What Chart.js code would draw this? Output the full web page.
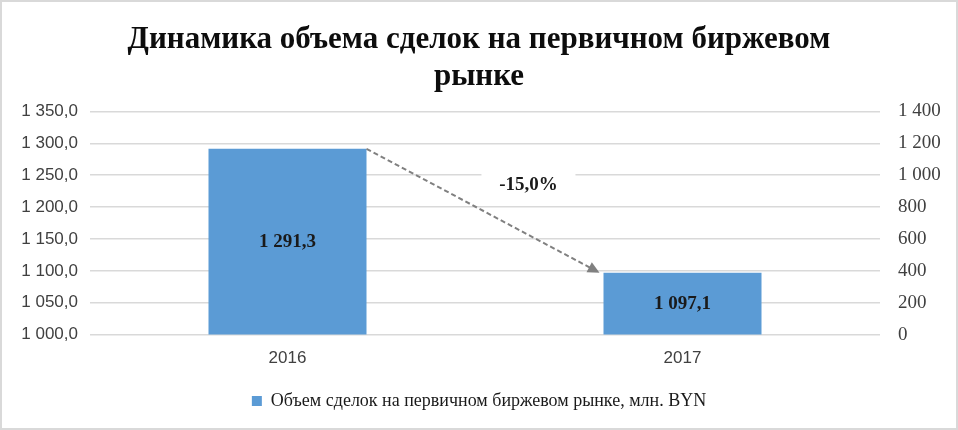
<!DOCTYPE html>
<html>
<head>
<meta charset="utf-8">
<script src="https://cdn.jsdelivr.net/npm/chart.js@4/dist/chart.umd.min.js"></script>
<style>
  html, body { margin: 0; padding: 0; background: #fff; }
  #wrap { width: 954px; height: 426px; border: 2px solid #d9d9d9; position: relative; }
</style>
</head>
<body>
<div id="wrap"><canvas id="volumeChart" width="954" height="426"></canvas></div>
<script>
const categories = ['2016', '2017'];
const volumes = [1291.3, 1097.1];
const seriesName = 'Объем сделок на первичном биржевом рынке, млн. BYN';
const chartTitle = ['Динамика объема сделок на первичном биржевом', 'рынке'];
const changeText = '-15,0%';
const leftMin = 1000, leftMax = 1350, leftStep = 50;
const rightMin = 0, rightMax = 1400, rightStep = 200;

const barColor = '#5b9bd5';

function fmt(v, digits) {
	const parts = v.toFixed(digits).split('.');
	parts[0] = parts[0].replace(/\B(?=(\d{3})+(?!\d))/g, ' ');
	return parts.join(',');
}

// value labels inside the bars + dashed arrow with the change label
const extras = {
	id: 'extras',
	afterDatasetsDraw(chart) {
		const ctx = chart.ctx;
		const bars = chart.getDatasetMeta(0).data;
		const bottom = chart.scales.y.getPixelForValue(leftMin);
		ctx.save();
		ctx.font = 'bold 19px "Liberation Serif"';
		ctx.fillStyle = '#1a1a1a';
		ctx.textAlign = 'center';
		ctx.textBaseline = 'middle';
		bars.forEach((b, i) => {
			ctx.fillText(fmt(volumes[i], 1), b.x, (b.y + bottom) / 2);
		});

		// arrow from top-right of first bar to top-left of second bar
		const a = bars[0], c = bars[1];
		const x1 = a.x + a.width / 2, y1 = a.y;
		const x2 = c.x - c.width / 2 - 4, y2 = c.y;
		const ang = Math.atan2(y2 - y1, x2 - x1);
		const head = 13;
		ctx.strokeStyle = '#808080';
		ctx.fillStyle = '#808080';
		ctx.lineWidth = 2;
		ctx.setLineDash([5, 3]);
		ctx.beginPath();
		ctx.moveTo(x1, y1);
		ctx.lineTo(x2 - Math.cos(ang) * head * 0.8, y2 - Math.sin(ang) * head * 0.8);
		ctx.stroke();
		ctx.setLineDash([]);
		ctx.beginPath();
		ctx.moveTo(x2, y2);
		ctx.lineTo(x2 - head * Math.cos(ang - 0.45), y2 - head * Math.sin(ang - 0.45));
		ctx.lineTo(x2 - head * Math.cos(ang + 0.45), y2 - head * Math.sin(ang + 0.45));
		ctx.closePath();
		ctx.fill();

		// change label with white box
		const area = chart.chartArea;
		const lx = area.left + (area.right - area.left) * 0.555;
		const ly = chart.scales.y.getPixelForValue(1234);
		ctx.fillStyle = '#fff';
		ctx.fillRect(lx - 47, ly - 14, 94, 28);
		ctx.fillStyle = '#1a1a1a';
		ctx.font = 'bold 19px "Liberation Serif"';
		ctx.fillText(changeText, lx, ly);
		ctx.restore();
	}
};

const volumeChart = new Chart(document.getElementById('volumeChart').getContext('2d'), {
	type: 'bar',
	data: {
		labels: categories,
		datasets: [{
			label: seriesName,
			data: volumes,
			backgroundColor: barColor,
			barPercentage: 0.4,
			categoryPercentage: 1,
			yAxisID: 'y'
		}]
	},
	options: {
		responsive: false,
		animation: false,
		layout: { padding: { left: 0, right: 0, top: 0, bottom: 8 } },
		plugins: {
			title: {
				display: true,
				text: chartTitle,
				color: '#0d0d0d',
				font: { family: '"Liberation Serif"', size: 31, weight: 'bold', lineHeight: 1.2 },
				padding: { top: 19, bottom: 16 }
			},
			legend: {
				position: 'bottom',
				labels: {
					boxWidth: 10,
					boxHeight: 10,
					color: '#1a1a1a',
					font: { family: '"Liberation Serif"', size: 18 },
					padding: 10
				}
			},
			tooltip: { enabled: false }
		},
		scales: {
			x: {
				afterFit(scale) { scale.height += 7; },
				grid: { display: false },
				border: { display: false },
				ticks: { color: '#404040', font: { family: '"Liberation Sans"', size: 17 }, padding: 6 }
			},
			y: {
				position: 'left',
				min: leftMin,
				max: leftMax,
				afterFit(scale) { scale.width = 88; },
				grid: { color: '#d9d9d9', lineWidth: 1.5, drawTicks: false },
				border: { display: false },
				ticks: {
					stepSize: leftStep,
					padding: 12,
					color: '#404040',
					font: { family: '"Liberation Sans"', size: 17 },
					callback: v => fmt(v, 1)
				}
			},
			y2: {
				position: 'right',
				min: rightMin,
				max: rightMax,
				afterFit(scale) { scale.width = 76; },
				grid: { display: false, drawTicks: false },
				border: { display: false },
				ticks: {
					stepSize: rightStep,
					padding: 18,
					color: '#404040',
					font: { family: '"Liberation Serif"', size: 19 },
					callback: v => fmt(v, 0)
				}
			}
		}
	},
	plugins: [extras]
});
</script>
</body>
</html>
